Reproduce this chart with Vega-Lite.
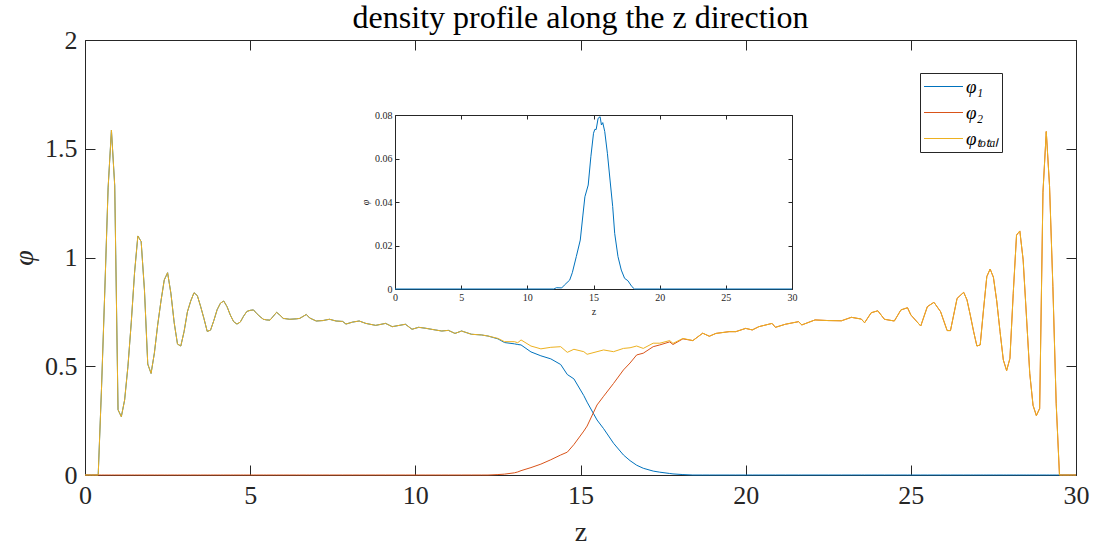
{
  "$schema": "https://vega.github.io/schema/vega-lite/v6.json",
  "width": 991,
  "height": 435,
  "autosize": {"type": "none"},
  "padding": {"left": 85, "top": 40, "right": 20, "bottom": 72},
  "background": "white",
  "config": {
    "view": {"stroke": null},
    "font": "Liberation Serif",
    "axis": {
      "domainColor": "#262626",
      "tickColor": "#262626",
      "labelColor": "#262626",
      "titleColor": "#262626",
      "labelFont": "Liberation Serif",
      "titleFont": "Liberation Serif",
      "grid": false,
      "domainWidth": 1,
      "tickWidth": 1,
      "labelFlush": false
    }
  },
  "title": {
    "text": "density profile along the z direction",
    "fontSize": 32,
    "font": "Liberation Serif",
    "fontWeight": "normal",
    "color": "#000000",
    "offset": 8,
    "dy": 16
  },
  "datasets": {
    "main": [
      {"z": 0, "p1": 0, "p2": 0, "pt": 0},
      {"z": 0.1, "p1": 0, "p2": 0, "pt": 0},
      {"z": 0.2, "p1": 0, "p2": 0, "pt": 0},
      {"z": 0.3, "p1": 0, "p2": 0, "pt": 0},
      {"z": 0.4, "p1": 0, "p2": 0, "pt": 0},
      {"z": 0.5, "p1": 0.40, "p2": 0, "pt": 0.40},
      {"z": 0.6, "p1": 0.85, "p2": 0, "pt": 0.85},
      {"z": 0.7, "p1": 1.32, "p2": 0, "pt": 1.32},
      {"z": 0.8, "p1": 1.586, "p2": 0, "pt": 1.586},
      {"z": 0.9, "p1": 1.33, "p2": 0, "pt": 1.33},
      {"z": 1.0, "p1": 0.30, "p2": 0, "pt": 0.30},
      {"z": 1.1, "p1": 0.268, "p2": 0, "pt": 0.268},
      {"z": 1.2, "p1": 0.345, "p2": 0, "pt": 0.345},
      {"z": 1.3, "p1": 0.50, "p2": 0, "pt": 0.50},
      {"z": 1.4, "p1": 0.70, "p2": 0, "pt": 0.70},
      {"z": 1.5, "p1": 0.93, "p2": 0, "pt": 0.93},
      {"z": 1.6, "p1": 1.099, "p2": 0, "pt": 1.099},
      {"z": 1.7, "p1": 1.073, "p2": 0, "pt": 1.073},
      {"z": 1.8, "p1": 0.85, "p2": 0, "pt": 0.85},
      {"z": 1.9, "p1": 0.51, "p2": 0, "pt": 0.51},
      {"z": 2.0, "p1": 0.467, "p2": 0, "pt": 0.467},
      {"z": 2.1, "p1": 0.56, "p2": 0, "pt": 0.56},
      {"z": 2.2, "p1": 0.69, "p2": 0, "pt": 0.69},
      {"z": 2.3, "p1": 0.80, "p2": 0, "pt": 0.80},
      {"z": 2.4, "p1": 0.897, "p2": 0, "pt": 0.897},
      {"z": 2.5, "p1": 0.930, "p2": 0, "pt": 0.930},
      {"z": 2.6, "p1": 0.836, "p2": 0, "pt": 0.836},
      {"z": 2.7, "p1": 0.70, "p2": 0, "pt": 0.70},
      {"z": 2.8, "p1": 0.602, "p2": 0, "pt": 0.602},
      {"z": 2.9, "p1": 0.593, "p2": 0, "pt": 0.593},
      {"z": 3.0, "p1": 0.66, "p2": 0, "pt": 0.66},
      {"z": 3.1, "p1": 0.75, "p2": 0, "pt": 0.75},
      {"z": 3.2, "p1": 0.80, "p2": 0, "pt": 0.80},
      {"z": 3.3, "p1": 0.838, "p2": 0, "pt": 0.838},
      {"z": 3.4, "p1": 0.825, "p2": 0, "pt": 0.825},
      {"z": 3.5, "p1": 0.775, "p2": 0, "pt": 0.775},
      {"z": 3.6, "p1": 0.72, "p2": 0, "pt": 0.72},
      {"z": 3.7, "p1": 0.66, "p2": 0, "pt": 0.66},
      {"z": 3.8, "p1": 0.666, "p2": 0, "pt": 0.666},
      {"z": 3.9, "p1": 0.71, "p2": 0, "pt": 0.71},
      {"z": 4.0, "p1": 0.76, "p2": 0, "pt": 0.76},
      {"z": 4.1, "p1": 0.79, "p2": 0, "pt": 0.79},
      {"z": 4.2, "p1": 0.80, "p2": 0, "pt": 0.80},
      {"z": 4.3, "p1": 0.774, "p2": 0, "pt": 0.774},
      {"z": 4.4, "p1": 0.735, "p2": 0, "pt": 0.735},
      {"z": 4.5, "p1": 0.705, "p2": 0, "pt": 0.705},
      {"z": 4.6, "p1": 0.694, "p2": 0, "pt": 0.694},
      {"z": 4.7, "p1": 0.703, "p2": 0, "pt": 0.703},
      {"z": 4.8, "p1": 0.73, "p2": 0, "pt": 0.73},
      {"z": 4.9, "p1": 0.752, "p2": 0, "pt": 0.752},
      {"z": 5.0, "p1": 0.757, "p2": 0, "pt": 0.757},
      {"z": 5.1, "p1": 0.759, "p2": 0, "pt": 0.759},
      {"z": 5.2, "p1": 0.742, "p2": 0, "pt": 0.742},
      {"z": 5.3, "p1": 0.728, "p2": 0, "pt": 0.728},
      {"z": 5.4, "p1": 0.716, "p2": 0, "pt": 0.716},
      {"z": 5.5, "p1": 0.713, "p2": 0, "pt": 0.713},
      {"z": 5.6, "p1": 0.712, "p2": 0, "pt": 0.712},
      {"z": 5.7, "p1": 0.73, "p2": 0, "pt": 0.73},
      {"z": 5.8, "p1": 0.748, "p2": 0, "pt": 0.748},
      {"z": 5.9, "p1": 0.735, "p2": 0, "pt": 0.735},
      {"z": 6.0, "p1": 0.72, "p2": 0, "pt": 0.72},
      {"z": 6.2, "p1": 0.716, "p2": 0, "pt": 0.716},
      {"z": 6.4, "p1": 0.718, "p2": 0, "pt": 0.718},
      {"z": 6.5, "p1": 0.72, "p2": 0, "pt": 0.72},
      {"z": 6.7, "p1": 0.738, "p2": 0, "pt": 0.738},
      {"z": 6.8, "p1": 0.722, "p2": 0, "pt": 0.722},
      {"z": 7.0, "p1": 0.708, "p2": 0, "pt": 0.708},
      {"z": 7.2, "p1": 0.710, "p2": 0, "pt": 0.710},
      {"z": 7.4, "p1": 0.716, "p2": 0, "pt": 0.716},
      {"z": 7.6, "p1": 0.708, "p2": 0, "pt": 0.708},
      {"z": 7.8, "p1": 0.706, "p2": 0, "pt": 0.706},
      {"z": 7.9, "p1": 0.694, "p2": 0, "pt": 0.694},
      {"z": 8.1, "p1": 0.703, "p2": 0, "pt": 0.703},
      {"z": 8.3, "p1": 0.708, "p2": 0, "pt": 0.708},
      {"z": 8.5, "p1": 0.697, "p2": 0, "pt": 0.697},
      {"z": 8.8, "p1": 0.688, "p2": 0, "pt": 0.688},
      {"z": 9.1, "p1": 0.697, "p2": 0, "pt": 0.697},
      {"z": 9.3, "p1": 0.682, "p2": 0, "pt": 0.682},
      {"z": 9.7, "p1": 0.693, "p2": 0, "pt": 0.693},
      {"z": 9.9, "p1": 0.670, "p2": 0, "pt": 0.670},
      {"z": 10.1, "p1": 0.679, "p2": 0, "pt": 0.679},
      {"z": 10.3, "p1": 0.675, "p2": 0, "pt": 0.675},
      {"z": 10.6, "p1": 0.667, "p2": 0, "pt": 0.667},
      {"z": 10.8, "p1": 0.662, "p2": 0, "pt": 0.662},
      {"z": 11.0, "p1": 0.665, "p2": 0, "pt": 0.665},
      {"z": 11.2, "p1": 0.651, "p2": 0, "pt": 0.651},
      {"z": 11.4, "p1": 0.662, "p2": 0, "pt": 0.662},
      {"z": 11.7, "p1": 0.647, "p2": 0, "pt": 0.647},
      {"z": 12.0, "p1": 0.644, "p2": 0, "pt": 0.644},
      {"z": 12.2, "p1": 0.639, "p2": 0, "pt": 0.639},
      {"z": 12.5, "p1": 0.626, "p2": 0.002, "pt": 0.628},
      {"z": 12.7, "p1": 0.609, "p2": 0.004, "pt": 0.613},
      {"z": 13.0, "p1": 0.603, "p2": 0.010, "pt": 0.613},
      {"z": 13.1, "p1": 0.600, "p2": 0.014, "pt": 0.608},
      {"z": 13.2, "p1": 0.598, "p2": 0.020, "pt": 0.621},
      {"z": 13.5, "p1": 0.566, "p2": 0.034, "pt": 0.593},
      {"z": 13.8, "p1": 0.548, "p2": 0.050, "pt": 0.580},
      {"z": 14.1, "p1": 0.534, "p2": 0.070, "pt": 0.587},
      {"z": 14.4, "p1": 0.508, "p2": 0.092, "pt": 0.590},
      {"z": 14.6, "p1": 0.462, "p2": 0.105, "pt": 0.564},
      {"z": 14.8, "p1": 0.442, "p2": 0.140, "pt": 0.578},
      {"z": 15.1, "p1": 0.365, "p2": 0.202, "pt": 0.567},
      {"z": 15.2, "p1": 0.335, "p2": 0.225, "pt": 0.555},
      {"z": 15.5, "p1": 0.253, "p2": 0.322, "pt": 0.567},
      {"z": 15.7, "p1": 0.213, "p2": 0.362, "pt": 0.575},
      {"z": 16.0, "p1": 0.146, "p2": 0.421, "pt": 0.567},
      {"z": 16.3, "p1": 0.092, "p2": 0.483, "pt": 0.582},
      {"z": 16.5, "p1": 0.066, "p2": 0.515, "pt": 0.585},
      {"z": 16.7, "p1": 0.045, "p2": 0.552, "pt": 0.593},
      {"z": 16.9, "p1": 0.031, "p2": 0.560, "pt": 0.582},
      {"z": 17.2, "p1": 0.018, "p2": 0.590, "pt": 0.606},
      {"z": 17.4, "p1": 0.013, "p2": 0.598, "pt": 0.606},
      {"z": 17.7, "p1": 0.007, "p2": 0.612, "pt": 0.618},
      {"z": 17.8, "p1": 0.005, "p2": 0.600, "pt": 0.605},
      {"z": 18.1, "p1": 0.002, "p2": 0.626, "pt": 0.628},
      {"z": 18.4, "p1": 0, "p2": 0.618, "pt": 0.618},
      {"z": 18.7, "p1": 0, "p2": 0.652, "pt": 0.652},
      {"z": 18.9, "p1": 0, "p2": 0.638, "pt": 0.638},
      {"z": 19.1, "p1": 0, "p2": 0.651, "pt": 0.651},
      {"z": 19.5, "p1": 0, "p2": 0.659, "pt": 0.659},
      {"z": 19.7, "p1": 0, "p2": 0.659, "pt": 0.659},
      {"z": 20.0, "p1": 0, "p2": 0.674, "pt": 0.674},
      {"z": 20.2, "p1": 0, "p2": 0.667, "pt": 0.667},
      {"z": 20.4, "p1": 0, "p2": 0.682, "pt": 0.682},
      {"z": 20.8, "p1": 0, "p2": 0.697, "pt": 0.697},
      {"z": 20.9, "p1": 0, "p2": 0.679, "pt": 0.679},
      {"z": 21.2, "p1": 0, "p2": 0.693, "pt": 0.693},
      {"z": 21.6, "p1": 0, "p2": 0.705, "pt": 0.705},
      {"z": 21.7, "p1": 0, "p2": 0.690, "pt": 0.690},
      {"z": 22.1, "p1": 0, "p2": 0.713, "pt": 0.713},
      {"z": 22.5, "p1": 0, "p2": 0.710, "pt": 0.710},
      {"z": 22.9, "p1": 0, "p2": 0.709, "pt": 0.709},
      {"z": 23.2, "p1": 0, "p2": 0.725, "pt": 0.725},
      {"z": 23.5, "p1": 0, "p2": 0.717, "pt": 0.717},
      {"z": 23.6, "p1": 0, "p2": 0.700, "pt": 0.700},
      {"z": 23.8, "p1": 0, "p2": 0.746, "pt": 0.746},
      {"z": 24.0, "p1": 0, "p2": 0.755, "pt": 0.755},
      {"z": 24.2, "p1": 0, "p2": 0.716, "pt": 0.716},
      {"z": 24.5, "p1": 0, "p2": 0.708, "pt": 0.708},
      {"z": 24.7, "p1": 0, "p2": 0.759, "pt": 0.759},
      {"z": 24.9, "p1": 0, "p2": 0.769, "pt": 0.769},
      {"z": 25.0, "p1": 0, "p2": 0.736, "pt": 0.736},
      {"z": 25.3, "p1": 0, "p2": 0.685, "pt": 0.685},
      {"z": 25.5, "p1": 0, "p2": 0.774, "pt": 0.774},
      {"z": 25.7, "p1": 0, "p2": 0.794, "pt": 0.794},
      {"z": 25.9, "p1": 0, "p2": 0.751, "pt": 0.751},
      {"z": 26.1, "p1": 0, "p2": 0.664, "pt": 0.664},
      {"z": 26.2, "p1": 0, "p2": 0.664, "pt": 0.664},
      {"z": 26.4, "p1": 0, "p2": 0.812, "pt": 0.812},
      {"z": 26.6, "p1": 0, "p2": 0.840, "pt": 0.840},
      {"z": 26.7, "p1": 0, "p2": 0.805, "pt": 0.805},
      {"z": 26.8, "p1": 0, "p2": 0.735, "pt": 0.735},
      {"z": 26.9, "p1": 0, "p2": 0.66, "pt": 0.66},
      {"z": 27.0, "p1": 0, "p2": 0.593, "pt": 0.593},
      {"z": 27.1, "p1": 0, "p2": 0.598, "pt": 0.598},
      {"z": 27.2, "p1": 0, "p2": 0.76, "pt": 0.76},
      {"z": 27.3, "p1": 0, "p2": 0.912, "pt": 0.912},
      {"z": 27.4, "p1": 0, "p2": 0.947, "pt": 0.947},
      {"z": 27.5, "p1": 0, "p2": 0.909, "pt": 0.909},
      {"z": 27.6, "p1": 0, "p2": 0.80, "pt": 0.80},
      {"z": 27.7, "p1": 0, "p2": 0.66, "pt": 0.66},
      {"z": 27.8, "p1": 0, "p2": 0.529, "pt": 0.529},
      {"z": 27.9, "p1": 0, "p2": 0.480, "pt": 0.480},
      {"z": 28.0, "p1": 0, "p2": 0.536, "pt": 0.536},
      {"z": 28.1, "p1": 0, "p2": 0.835, "pt": 0.835},
      {"z": 28.2, "p1": 0, "p2": 1.103, "pt": 1.103},
      {"z": 28.3, "p1": 0, "p2": 1.122, "pt": 1.122},
      {"z": 28.4, "p1": 0, "p2": 0.989, "pt": 0.989},
      {"z": 28.5, "p1": 0, "p2": 0.73, "pt": 0.73},
      {"z": 28.6, "p1": 0, "p2": 0.467, "pt": 0.467},
      {"z": 28.7, "p1": 0, "p2": 0.32, "pt": 0.32},
      {"z": 28.8, "p1": 0, "p2": 0.273, "pt": 0.273},
      {"z": 28.9, "p1": 0, "p2": 0.306, "pt": 0.306},
      {"z": 29.0, "p1": 0, "p2": 1.30, "pt": 1.30},
      {"z": 29.1, "p1": 0, "p2": 1.579, "pt": 1.579},
      {"z": 29.2, "p1": 0, "p2": 1.326, "pt": 1.326},
      {"z": 29.3, "p1": 0, "p2": 0.866, "pt": 0.866},
      {"z": 29.4, "p1": 0, "p2": 0.33, "pt": 0.33},
      {"z": 29.5, "p1": 0, "p2": 0, "pt": 0},
      {"z": 29.6, "p1": 0, "p2": 0, "pt": 0},
      {"z": 29.7, "p1": 0, "p2": 0, "pt": 0},
      {"z": 29.8, "p1": 0, "p2": 0, "pt": 0},
      {"z": 29.9, "p1": 0, "p2": 0, "pt": 0},
      {"z": 30, "p1": 0, "p2": 0, "pt": 0}
    ],
    "inset": [
      {"z": 0, "v": 0},
      {"z": 5, "v": 0},
      {"z": 10, "v": 0},
      {"z": 12.0, "v": 0},
      {"z": 12.2, "v": 0.0006},
      {"z": 12.6, "v": 0.0005},
      {"z": 12.8, "v": 0.0018},
      {"z": 13.2, "v": 0.0041},
      {"z": 13.4, "v": 0.0075},
      {"z": 13.7, "v": 0.0149},
      {"z": 14.0, "v": 0.0225},
      {"z": 14.2, "v": 0.034},
      {"z": 14.35, "v": 0.0424},
      {"z": 14.6, "v": 0.0478},
      {"z": 14.8, "v": 0.0608},
      {"z": 15.0, "v": 0.0716},
      {"z": 15.1, "v": 0.0734},
      {"z": 15.2, "v": 0.0733},
      {"z": 15.35, "v": 0.0785},
      {"z": 15.5, "v": 0.0792},
      {"z": 15.6, "v": 0.0754},
      {"z": 15.7, "v": 0.0765},
      {"z": 15.85, "v": 0.0724},
      {"z": 16.05, "v": 0.0624},
      {"z": 16.25, "v": 0.0501},
      {"z": 16.45, "v": 0.0379},
      {"z": 16.6, "v": 0.0256},
      {"z": 16.85, "v": 0.0149},
      {"z": 17.1, "v": 0.0087},
      {"z": 17.35, "v": 0.0049},
      {"z": 17.6, "v": 0.0038},
      {"z": 17.9, "v": 0.0011},
      {"z": 18.1, "v": 0},
      {"z": 20, "v": 0},
      {"z": 25, "v": 0},
      {"z": 30, "v": 0}
    ]
  },
  "resolve": {
    "scale": {"x": "independent", "y": "independent"},
    "axis": {"x": "independent", "y": "independent"}
  },
  "layer": [
    {
      "data": {"name": "main"},
      "transform": [{"fold": ["p1", "p2", "pt"], "as": ["series", "phi"]}],
      "mark": {"type": "line", "strokeWidth": 1},
      "encoding": {
        "x": {
          "field": "z", "type": "quantitative",
          "scale": {"domain": [0, 30], "nice": false, "zero": false},
          "axis": {
            "orient": "bottom", "values": [0, 5, 10, 15, 20, 25, 30], "format": "~g",
            "tickSize": -10, "labelFontSize": 26, "labelPadding": 17,
            "title": "z", "titleFontSize": 28, "titleFontWeight": "normal", "titlePadding": 10
          }
        },
        "y": {
          "field": "phi", "type": "quantitative",
          "scale": {"domain": [0, 2], "nice": false},
          "axis": {
            "orient": "left", "values": [0, 0.5, 1, 1.5, 2], "format": "~g",
            "tickSize": -10, "labelFontSize": 26, "labelPadding": 18,
            "title": "φ", "titleFontSize": 28, "titleFontStyle": "italic", "titleFontWeight": "normal", "titlePadding": 6
          }
        },
        "color": {
          "field": "series", "type": "nominal",
          "scale": {"domain": ["p1", "p2", "pt"], "range": ["#0072BD", "#D95319", "#EDB120"]},
          "legend": {
            "orient": "none", "legendX": 835, "legendY": 33, "title": null,
            "symbolType": "M-2.05,0H2.05", "symbolSize": 361, "symbolStrokeWidth": 1.2, "symbolOffset": 10,
            "labelFont": "Liberation Serif", "labelFontSize": 19, "labelFontStyle": "italic", "labelColor": "#000000",
            "labelOffset": 12, "strokeColor": "#262626", "fillColor": "white", "padding": 3, "rowPadding": 5,
            "labelExpr": "datum.label == 'p1' ? 'φ₁' : datum.label == 'p2' ? 'φ₂' : 'φₜₒₜₐₗ'"
          }
        }
      }
    },
    {
      "data": {"name": "main"},
      "mark": {"type": "point", "opacity": 0},
      "encoding": {
        "x": {
          "field": "z", "type": "quantitative",
          "scale": {"domain": [0, 30], "nice": false, "zero": false},
          "axis": {"orient": "top", "values": [0, 5, 10, 15, 20, 25, 30], "tickSize": -10, "labels": false, "title": null}
        },
        "y": {
          "field": "pt", "type": "quantitative",
          "scale": {"domain": [0, 2], "nice": false},
          "axis": {"orient": "right", "values": [0, 0.5, 1, 1.5, 2], "tickSize": -10, "labels": false, "title": null}
        }
      }
    },
    {
      "data": {"name": "inset"},
      "mark": {"type": "line", "strokeWidth": 1, "color": "#0072BD"},
      "encoding": {
        "x": {
          "field": "z", "type": "quantitative",
          "scale": {"domain": [0, 30], "nice": false, "zero": false, "range": [310, 707]},
          "axis": {
            "orient": "bottom", "offset": -186, "values": [0, 5, 10, 15, 20, 25, 30], "format": "~g",
            "tickSize": -4, "labelFontSize": 10, "labelPadding": 7,
            "title": "z", "titleFontSize": 10, "titleFontWeight": "normal", "titlePadding": 4
          }
        },
        "y": {
          "field": "v", "type": "quantitative",
          "scale": {"domain": [0, 0.08], "nice": false, "range": [249, 75]},
          "axis": {
            "orient": "left", "offset": -310, "values": [0, 0.02, 0.04, 0.06, 0.08], "format": "~g",
            "tickSize": -4, "labelFontSize": 10, "labelPadding": 7,
            "title": "φ", "titleFontSize": 10, "titleFontStyle": "italic", "titleFontWeight": "normal", "titlePadding": 4
          }
        }
      }
    },
    {
      "data": {"name": "inset"},
      "mark": {"type": "point", "opacity": 0},
      "encoding": {
        "x": {
          "field": "z", "type": "quantitative",
          "scale": {"domain": [0, 30], "nice": false, "zero": false, "range": [310, 707]},
          "axis": {"orient": "top", "offset": -75, "values": [0, 5, 10, 15, 20, 25, 30], "tickSize": -4, "labels": false, "title": null}
        },
        "y": {
          "field": "v", "type": "quantitative",
          "scale": {"domain": [0, 0.08], "nice": false, "range": [249, 75]},
          "axis": {"orient": "right", "offset": -284, "values": [0, 0.02, 0.04, 0.06, 0.08], "tickSize": -4, "labels": false, "title": null}
        }
      }
    }
  ]
}
